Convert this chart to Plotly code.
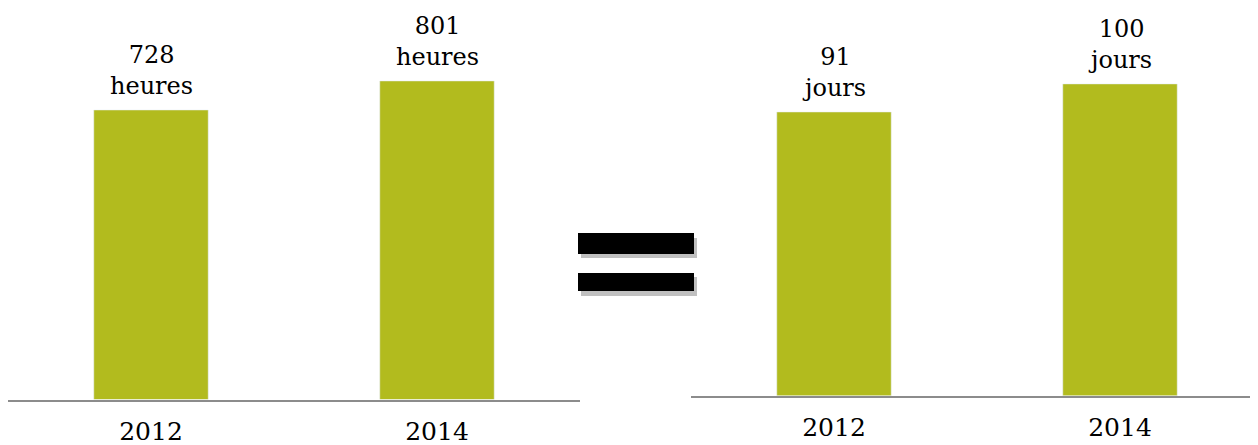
import plotly.graph_objects as go

years = ["2012", "2014"]
hours = [728, 801]
days = [91, 100]
hours_unit = "heures"
days_unit = "jours"

BAR = "#B2BB1E"
FONT = "DejaVu Serif"
W, H = 1250, 437   # page adds an 8px body margin
OFF = 8

fig = go.Figure()
fig.add_trace(go.Bar(x=years, y=hours, marker_color=BAR, width=0.4,
                     xaxis="x", yaxis="y", hoverinfo="skip"))
fig.add_trace(go.Bar(x=years, y=days, marker_color=BAR, width=0.4,
                     xaxis="x2", yaxis="y2", hoverinfo="skip"))

annotations = []
for vs, unit, xr, yr in [(hours, hours_unit, "x", "y"),
                         (days, days_unit, "x2", "y2")]:
    for i, v in enumerate(vs):
        annotations.append(dict(x=i, y=v, xref=xr, yref=yr, text=f"{v}<br>{unit}",
                                showarrow=False, yanchor="bottom", yshift=8,
                                font=dict(family=FONT, size=24, color="black")))

def px(x0, y0, x1, y1, color):
    x0 -= OFF; x1 -= OFF; y0 -= OFF; y1 -= OFF
    return dict(type="rect", xref="paper", yref="paper",
                x0=x0 / W, x1=x1 / W, y0=1 - y1 / H, y1=1 - y0 / H,
                fillcolor=color, line=dict(width=0), layer="above")

shapes = [
    px(581, 238, 697, 258, "#C0C0C0"),
    px(578, 233, 694, 254, "black"),
    px(581, 277, 697, 296, "#C0C0C0"),
    px(578, 273, 694, 291, "black"),
]

axis_common = dict(showline=True, linecolor="#8C8C8C", linewidth=2, ticks="",
                   showgrid=False, zeroline=False,
                   tickfont=dict(family=FONT, size=25, color="black"))
yaxis_common = dict(showticklabels=False, showline=False, showgrid=False,
                    zeroline=False, ticks="")

fig.update_layout(
    width=W, height=H,
    margin=dict(l=0, r=0, t=0, b=0),
    paper_bgcolor="white", plot_bgcolor="white",
    showlegend=False,
    xaxis=dict(domain=[0, 572 / W], range=[-0.5, 1.5], anchor="y",
               type="category", ticklabelstandoff=8, **axis_common),
    yaxis=dict(domain=[(437 - 391.5) / H, 1], range=[0, 391.5 / (289.5 / 728)],
               anchor="x", **yaxis_common),
    xaxis2=dict(domain=[683 / W, 1], range=[-0.5, -0.5 + 567 / 286], anchor="y2",
                type="category", ticklabelstandoff=8, **axis_common),
    yaxis2=dict(domain=[(437 - 387.8) / H, 1], range=[0, 387.8 / (283.8 / 91)],
                anchor="x2", **yaxis_common),
    annotations=annotations,
    shapes=shapes,
)

fig.write_html("out.html")
